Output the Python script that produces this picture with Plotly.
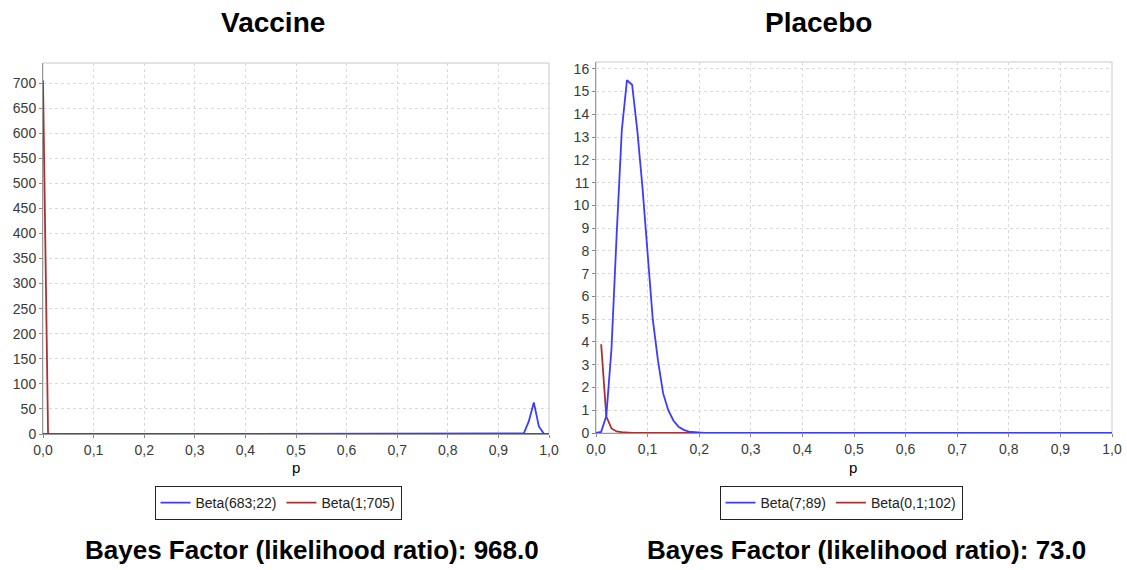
import plotly.graph_objects as go

# ---------------- data ----------------
# Vaccine panel
vac_blue_x = [0.0, 0.94, 0.95, 0.96, 0.97, 0.98, 0.99, 1.0]
vac_blue_y = [0, 0, 1, 25, 63, 15, 0.5, 0]
vac_red_x = [0.0, 0.01, 1.0]
vac_red_y = [705, 0.6, 0]

# Placebo panel
pla_blue_x = [0.0, 0.01, 0.02, 0.03, 0.04, 0.05, 0.06, 0.07, 0.08, 0.09, 0.10,
              0.11, 0.12, 0.13, 0.14, 0.15, 0.16, 0.17, 0.18, 0.19, 0.20, 0.21, 1.0]
pla_blue_y = [0, 0.05, 0.75, 3.7, 8.7, 13.3, 15.5, 15.3, 13.3, 10.8, 7.9,
              5.0, 3.2, 1.75, 1.0, 0.55, 0.27, 0.14, 0.06, 0.05, 0.04, 0.0, 0.0]
pla_red_x = [0.01, 0.02, 0.03, 0.04, 0.05, 0.06, 0.07, 1.0]
pla_red_y = [3.9, 0.72, 0.2, 0.07, 0.04, 0.02, 0.0, 0.0]

vac_names = ["Beta(683;22)", "Beta(1;705)"]
pla_names = ["Beta(7;89)", "Beta(0,1;102)"]

x_tickvals = [0.0, 0.1, 0.2, 0.3, 0.4, 0.5, 0.6, 0.7, 0.8, 0.9, 1.0]
x_ticktext = ["0,0", "0,1", "0,2", "0,3", "0,4", "0,5", "0,6", "0,7", "0,8", "0,9", "1,0"]
vac_yticks = list(range(0, 701, 50))
pla_yticks = list(range(0, 17))

titles = ["Vaccine", "Placebo"]
bayes = ["Bayes Factor (likelihood ratio): 968.0", "Bayes Factor (likelihood ratio): 73.0"]

# ---------------- figure ----------------
W, H = 1127, 570
BLUE = "#3c3cff"
RED = "#a83232"
FONT = "Liberation Sans, Arial, sans-serif"

fig = go.Figure()

# red first so blue is drawn on top; legend order via legendrank
fig.add_trace(go.Scatter(x=vac_red_x, y=vac_red_y, mode="lines", name=vac_names[1],
                         line=dict(color=RED, width=1.8), xaxis="x", yaxis="y",
                         legend="legend", legendrank=2))
fig.add_trace(go.Scatter(x=vac_blue_x, y=vac_blue_y, mode="lines", name=vac_names[0],
                         line=dict(color=BLUE, width=1.8), xaxis="x", yaxis="y",
                         legend="legend", legendrank=1))
fig.add_trace(go.Scatter(x=pla_red_x, y=pla_red_y, mode="lines", name=pla_names[1],
                         line=dict(color=RED, width=1.8), xaxis="x2", yaxis="y2",
                         legend="legend2", legendrank=2))
fig.add_trace(go.Scatter(x=pla_blue_x, y=pla_blue_y, mode="lines", name=pla_names[0],
                         line=dict(color=BLUE, width=1.8), xaxis="x2", yaxis="y2",
                         legend="legend2", legendrank=1))

def px(xp):
    return xp / W

def py(yp):
    return 1 - yp / H

grid = dict(showgrid=True, gridcolor="#d9d9d9", griddash="3px,3px", gridwidth=1,
            zeroline=False, ticks="outside", ticklen=3, tickcolor="#888",
            tickfont=dict(family=FONT, size=14, color="#3a3a3a"),
            showline=True, linecolor="#999", linewidth=1, automargin=False)

fig.update_layout(
    width=W, height=H,
    margin=dict(l=0, r=0, t=0, b=0, autoexpand=False),
    paper_bgcolor="white", plot_bgcolor="white",
    font=dict(family=FONT, color="#222"),
    xaxis=dict(domain=[px(43), px(549)], range=[0, 1.0], tickvals=x_tickvals,
               ticktext=x_ticktext, anchor="y", **grid),
    yaxis=dict(domain=[py(434), py(63)], range=[0, 740], tickvals=vac_yticks,
               anchor="x", **grid),
    xaxis2=dict(domain=[px(596), px(1112)], range=[0, 1.0], tickvals=x_tickvals,
                ticktext=x_ticktext, anchor="y2", **grid),
    yaxis2=dict(domain=[py(433), py(62)], range=[0, 16.3], tickvals=pla_yticks,
                anchor="x2", **grid),
    legend=dict(orientation="h", x=px(278), y=py(503), xanchor="center", yanchor="middle",
                bordercolor="#222", borderwidth=1, bgcolor="white", itemwidth=30,
                font=dict(family=FONT, size=14, color="#222"), tracegroupgap=0),
    legend2=dict(orientation="h", x=px(841), y=py(503), xanchor="center", yanchor="middle",
                 bordercolor="#222", borderwidth=1, bgcolor="white", itemwidth=30,
                 font=dict(family=FONT, size=14, color="#222"), tracegroupgap=0),
    showlegend=True,
)

# light frame around each plot area
for xr, yr in (("x domain", "y domain"), ("x2 domain", "y2 domain")):
    fig.add_shape(type="rect", xref=xr, yref=yr, x0=0, x1=1, y0=0, y1=1,
                  line=dict(color="#c8c8c8", width=1), layer="below")

annots = [
    dict(text="<b>%s</b>" % titles[0], x=px(273), y=py(22), size=28),
    dict(text="<b>%s</b>" % titles[1], x=px(818), y=py(22), size=28),
    dict(text="p", x=px(296), y=py(467), size=15),
    dict(text="p", x=px(853), y=py(467), size=15),
    dict(text="<b>%s</b>" % bayes[0], x=px(312), y=py(550), size=26),
    dict(text="<b>%s</b>" % bayes[1], x=px(866), y=py(550), size=26),
]
for a in annots:
    fig.add_annotation(text=a["text"], x=a["x"], y=a["y"], xref="paper", yref="paper",
                       xanchor="center", yanchor="middle", showarrow=False,
                       font=dict(family=FONT, size=a["size"], color="#000"))

fig.write_html("out.html", config={"displayModeBar": False},
               post_script="document.body.style.margin='0px';")
